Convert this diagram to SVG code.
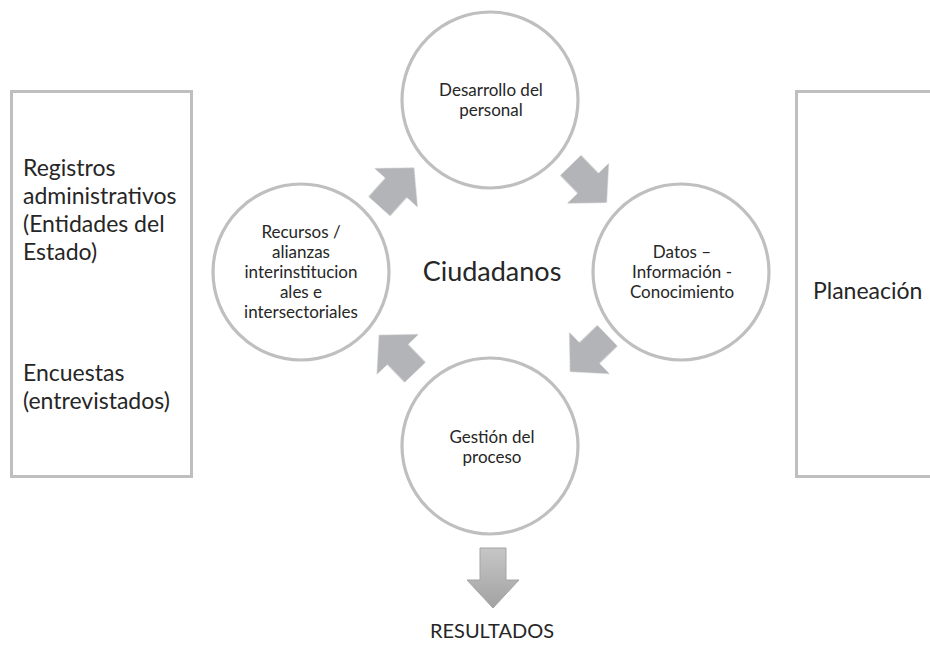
<svg xmlns="http://www.w3.org/2000/svg" width="930" height="646" viewBox="0 0 930 646">
  <style>
    .box { fill: #ffffff; stroke: #bfbfbf; stroke-width: 3; }
    .ring { fill: #ffffff; stroke: #bfbfbf; stroke-width: 3.2; }
    .t { font-family: Lato, "Open Sans", "Liberation Sans", sans-serif; fill: #262626; }
    .side { font-size: 23px; }
    .small { font-size: 17px; text-anchor: middle; }
    .mid { font-size: 27px; text-anchor: middle; }
    .res { font-size: 20px; text-anchor: middle; }
    .cyc { fill: #b3b4b7; filter: url(#soft); }
  </style>
  <defs>
    <filter id="soft" x="-20%" y="-20%" width="140%" height="140%">
      <feGaussianBlur stdDeviation="0.7"/>
    </filter>
    <linearGradient id="downFill" x1="0" y1="0" x2="0" y2="1">
      <stop offset="0" stop-color="#c6c6c6"/>
      <stop offset="1" stop-color="#a2a2a2"/>
    </linearGradient>
    <!-- block arrow pointing along +x, centred on the origin -->
    <polygon id="blockArrow" points="-26,-14.5 -1,-14.5 -1,-29 26,0 -1,29 -1,14.5 -26,14.5"/>
  </defs>

  <rect width="930" height="646" fill="#ffffff"/>

  <!-- side panels -->
  <g id="fuentes">
    <rect class="box" x="11.5" y="91.5" width="180" height="385"/>
    <text class="t side" x="23" y="176">Registros</text>
    <text class="t side" x="23" y="204">administrativos</text>
    <text class="t side" x="23" y="232">(Entidades del</text>
    <text class="t side" x="23" y="260">Estado)</text>
    <text class="t side" x="23" y="381">Encuestas</text>
    <text class="t side" x="23" y="409">(entrevistados)</text>
  </g>

  <g id="planeacion">
    <rect class="box" x="796.5" y="91.5" width="160" height="385"/>
    <text class="t side" x="813" y="299">Planeación</text>
  </g>

  <!-- cycle arrows and output arrow -->
  <g id="connectors">
    <use href="#blockArrow" class="cyc" transform="translate(396.7,187) rotate(-48)"/>
    <use href="#blockArrow" class="cyc" transform="translate(588.7,184) rotate(46)"/>
    <use href="#blockArrow" class="cyc" transform="translate(588.7,353.7) rotate(136)"/>
    <use href="#blockArrow" class="cyc" transform="translate(397,353.7) rotate(-134)"/>
    <polygon points="480,548 506,548 506,580 519,580 493,608 467,580 480,580" fill="url(#downFill)" stroke="#a4a4a4" stroke-width="1"/>
  </g>

  <!-- cycle stages -->
  <g id="desarrollo">
    <circle class="ring" cx="490" cy="100" r="88"/>
    <text class="t small" x="491" y="96">Desarrollo del</text>
    <text class="t small" x="491" y="116">personal</text>
  </g>

  <g id="datos">
    <circle class="ring" cx="681" cy="272" r="88"/>
    <text class="t small" x="682" y="258">Datos –</text>
    <text class="t small" x="682" y="278">Información -</text>
    <text class="t small" x="682" y="298">Conocimiento</text>
  </g>

  <g id="gestion">
    <circle class="ring" cx="490" cy="446" r="88"/>
    <text class="t small" x="492" y="443">Gestión del</text>
    <text class="t small" x="492" y="463">proceso</text>
  </g>

  <g id="recursos">
    <circle class="ring" cx="301" cy="272" r="88"/>
    <text class="t small" x="301" y="238">Recursos /</text>
    <text class="t small" x="301" y="258">alianzas</text>
    <text class="t small" x="301" y="278">interinstitucion</text>
    <text class="t small" x="301" y="298">ales e</text>
    <text class="t small" x="301" y="318">intersectoriales</text>
  </g>

  <g id="ciudadanos">
    <text class="t mid" x="492" y="281">Ciudadanos</text>
  </g>

  <g id="resultados">
    <text class="t res" x="492" y="638">RESULTADOS</text>
  </g>
</svg>
